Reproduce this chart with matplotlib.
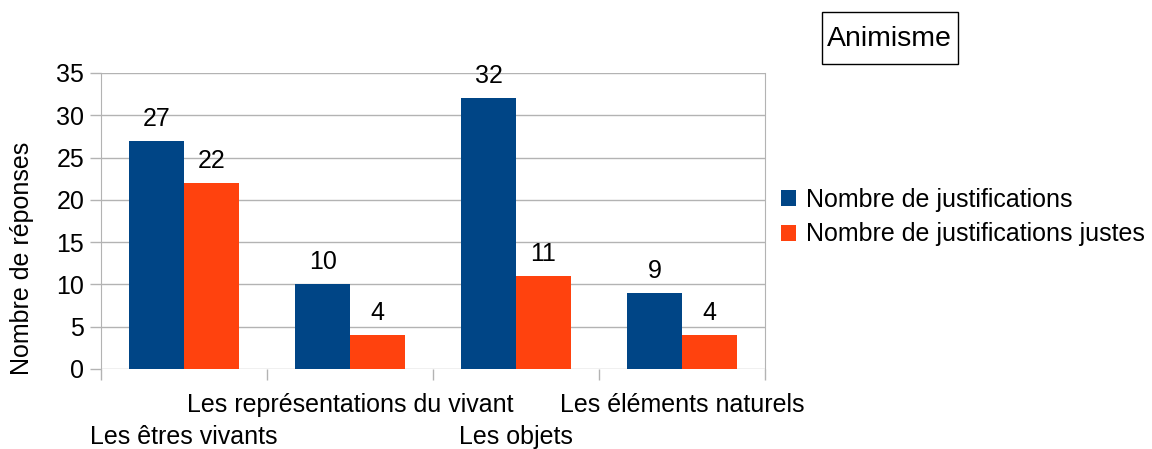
import matplotlib.pyplot as plt
import matplotlib.transforms as mtransforms
from matplotlib.patches import Rectangle
import numpy as np

plt.rcParams['font.family'] = ['Liberation Sans', 'DejaVu Sans']
plt.rcParams['font.size'] = 18

# data
categories = ['Les êtres vivants', 'Les représentations du vivant',
              'Les objets', 'Les éléments naturels']
justifs = [27, 10, 32, 9]
justes = [22, 4, 11, 4]
series_names = ['Nombre de justifications', 'Nombre de justifications justes']
colors = ['#004586', '#ff420e']

W, H = 1152, 449
fig = plt.figure(figsize=(W / 100, H / 100), dpi=100)
ax = fig.add_axes([101 / W, 1 - 369 / H, (765 - 101) / W, (369 - 73) / H])

x = np.arange(len(categories)) + 0.5
bw = 0.33
b1 = ax.bar(x - bw / 2, justifs, bw, color=colors[0], label=series_names[0], zorder=3)
b2 = ax.bar(x + bw / 2, justes, bw, color=colors[1], label=series_names[1], zorder=3)

for bars in (b1, b2):
    for r in bars:
        ax.text(r.get_x() + r.get_width() / 2, r.get_height() + 1.2, str(int(r.get_height())),
                ha='center', va='bottom', fontsize=18)

ax.set_xlim(0, 4)
ax.set_ylim(0, 35)
ax.set_yticks(range(0, 36, 5))
ax.set_xticks(range(0, 5))
ax.set_xticklabels([])
ax.grid(True, axis='y', color='#b3b3b3', linewidth=1, zorder=0)
for side in ('top', 'bottom'):
    ax.spines[side].set_visible(False)
for side in ('left', 'right'):
    ax.spines[side].set_color('#b3b3b3')
ax.tick_params(axis='both', color='#b3b3b3', length=8, width=1)
ax.tick_params(axis='y', pad=4)

# staggered category labels
trans = mtransforms.blended_transform_factory(ax.transData, fig.transFigure)
for i, c in enumerate(categories):
    ypix = 405 if i % 2 == 1 else 437
    ax.text(x[i], 1 - ypix / H, c, transform=trans, ha='center', va='center', fontsize=18)

fig.text(22 / W, 1 - 258 / H, 'Nombre de réponses', rotation=90,
         ha='center', va='center', fontsize=18)

# title in a box
fig.patches.append(Rectangle((822 / W, 1 - 64 / H), 136 / W, 52 / H, transform=fig.transFigure,
                             facecolor='white', edgecolor='black', linewidth=1))
fig.text(889 / W, 1 - 39 / H, 'Animisme', ha='center', va='center', fontsize=20.5)

leg = fig.legend(loc='upper left', bbox_to_anchor=(771 / W, 1 - 178 / H), frameon=False,
                 handlelength=0.6, handleheight=0.6, handletextpad=0.4, labelspacing=0.42,
                 fontsize=18, borderaxespad=0)

plt.savefig('out.png', dpi=100)
